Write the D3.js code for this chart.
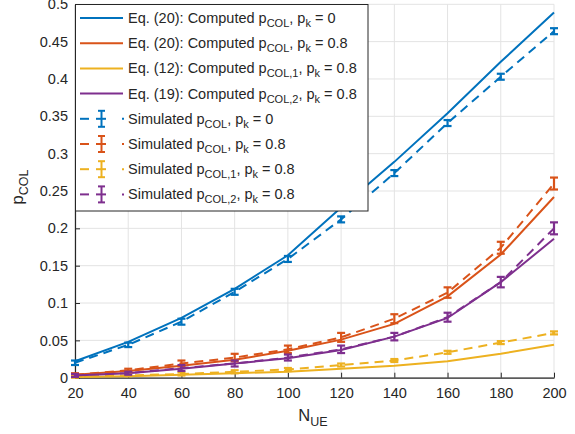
<!DOCTYPE html>
<html><head><meta charset="utf-8">
<script src="https://cdn.jsdelivr.net/npm/d3@7"></script>
<style>
body{margin:0;background:#fff;}
svg{display:block;font-family:"Liberation Sans",Arial,Helvetica,sans-serif;}
</style></head>
<body><svg id="c" width="575" height="434"></svg>
<script>
const nUE = [20,40,60,80,100,120,140,160,180,200];
const xTicks = [20,40,60,80,100,120,140,160,180,200];
const yTicks = [0,0.05,0.1,0.15,0.2,0.25,0.3,0.35,0.4,0.45,0.5];
const yTickLabels = ["0","0.05","0.1","0.15","0.2","0.25","0.3","0.35","0.4","0.45","0.5"];

const eq20_pk0  = [0.022,0.048,0.080,0.119,0.164,0.228,0.289,0.354,0.423,0.489];
const eq20_pk08 = [0.004,0.009,0.016,0.024,0.036,0.051,0.072,0.109,0.165,0.242];
const eq12_pk08 = [0.001,0.002,0.004,0.006,0.008,0.012,0.016,0.022,0.032,0.044];
const eq19_pk08 = [0.003,0.006,0.012,0.019,0.026,0.037,0.055,0.080,0.128,0.186];

const sim_pk0   = [0.020,0.044,0.075,0.115,0.159,0.212,0.274,0.341,0.403,0.464];
const sim_pk08  = [0.004,0.010,0.019,0.027,0.038,0.054,0.079,0.114,0.174,0.260];
const sim1_pk08 = [0.001,0.003,0.005,0.008,0.011,0.017,0.023,0.034,0.047,0.060];
const sim2_pk08 = [0.003,0.006,0.013,0.019,0.027,0.038,0.055,0.081,0.128,0.200];

const err_pk0   = [0.003,0.003,0.004,0.004,0.004,0.004,0.004,0.004,0.004,0.004];
const err_pk08  = [0.002,0.002,0.004,0.005,0.005,0.006,0.006,0.007,0.008,0.008];
const err1_pk08 = [0.001,0.001,0.002,0.002,0.002,0.002,0.002,0.002,0.002,0.002];
const err2_pk08 = [0.002,0.002,0.004,0.004,0.004,0.005,0.005,0.006,0.007,0.008];

const colors = ["#0072BD","#D95319","#EDB120","#7E2F8E"];

const computed = [
  {vals:eq20_pk0,  c:colors[0], label:[["Eq. (20): Computed p",""],["COL","s"],[", p",""],["k","s"],[" = 0",""]]},
  {vals:eq20_pk08, c:colors[1], label:[["Eq. (20): Computed p",""],["COL","s"],[", p",""],["k","s"],[" = 0.8",""]]},
  {vals:eq12_pk08, c:colors[2], label:[["Eq. (12): Computed p",""],["COL,1","s"],[", p",""],["k","s"],[" = 0.8",""]]},
  {vals:eq19_pk08, c:colors[3], label:[["Eq. (19): Computed p",""],["COL,2","s"],[", p",""],["k","s"],[" = 0.8",""]]}
];
const simulated = [
  {vals:sim_pk0,   err:err_pk0,   c:colors[0], label:[["Simulated p",""],["COL","s"],[", p",""],["k","s"],[" = 0",""]]},
  {vals:sim_pk08,  err:err_pk08,  c:colors[1], label:[["Simulated p",""],["COL","s"],[", p",""],["k","s"],[" = 0.8",""]]},
  {vals:sim1_pk08, err:err1_pk08, c:colors[2], label:[["Simulated p",""],["COL,1","s"],[", p",""],["k","s"],[" = 0.8",""]]},
  {vals:sim2_pk08, err:err2_pk08, c:colors[3], label:[["Simulated p",""],["COL,2","s"],[", p",""],["k","s"],[" = 0.8",""]]}
];

const L=75, R=554, T=4.3, B=377.7;
const x = d3.scaleLinear().domain([20,200]).range([L,R]);
const y = d3.scaleLinear().domain([0,0.5]).range([B,T]);
const svg = d3.select("#c");
const txt = "#262626";

// grid
const g = svg.append("g");
g.selectAll(".gx").data(xTicks).enter().append("line")
  .attr("x1",d=>x(d)).attr("x2",d=>x(d)).attr("y1",T).attr("y2",B)
  .attr("stroke","#e3e3e3").attr("stroke-width",1);
g.selectAll(".gy").data(yTicks).enter().append("line")
  .attr("x1",L).attr("x2",R).attr("y1",d=>y(d)).attr("y2",d=>y(d))
  .attr("stroke","#e3e3e3").attr("stroke-width",1);

// axes
const xAxis = d3.axisBottom(x).tickValues(xTicks).tickSizeInner(-5).tickSizeOuter(0).tickPadding(10);
const yAxis = d3.axisLeft(y).tickValues(yTicks).tickFormat((d,i)=>yTickLabels[i]).tickSizeInner(-5).tickSizeOuter(0).tickPadding(7);
const gx = svg.append("g").attr("transform",`translate(0,${B})`).call(xAxis);
const gy = svg.append("g").attr("transform",`translate(${L},0)`).call(yAxis);
[gx,gy].forEach(a=>{
  a.select(".domain").attr("stroke",txt).attr("stroke-width",1.2);
  a.selectAll(".tick line").attr("stroke",txt);
  a.selectAll(".tick text").attr("fill",txt).attr("font-size","14.5px").attr("font-family","Liberation Sans,Arial,sans-serif");
});

// lines
const line = d3.line().x((d,i)=>x(nUE[i])).y(d=>y(d));
const pg = svg.append("g");
computed.forEach(s=>{
  pg.append("path").datum(s.vals).attr("d",line).attr("fill","none")
    .attr("stroke",s.c).attr("stroke-width",2);
});
simulated.forEach(s=>{
  pg.append("path").datum(s.vals).attr("d",line).attr("fill","none")
    .attr("stroke",s.c).attr("stroke-width",2).attr("stroke-dasharray","9,6");
  const eg = pg.append("g").attr("stroke",s.c).attr("stroke-width",2.2);
  s.vals.forEach((v,i)=>{
    const cx = x(nUE[i]), y0 = y(v - s.err[i]), y1 = y(v + s.err[i]);
    eg.append("line").attr("x1",cx).attr("x2",cx).attr("y1",y0).attr("y2",y1);
    eg.append("line").attr("x1",cx-4).attr("x2",cx+4).attr("y1",y0).attr("y2",y0);
    eg.append("line").attr("x1",cx-4).attr("x2",cx+4).attr("y1",y1).attr("y2",y1);
  });
});

// axis labels
const xl = svg.append("text").attr("x",313).attr("y",421).attr("text-anchor","middle")
  .attr("fill",txt).attr("font-size","16.5px");
xl.append("tspan").text("N");
xl.append("tspan").attr("font-size","12.5px").attr("dy",5).text("UE");
const yl = svg.append("text").attr("transform","translate(23,187) rotate(-90)").attr("text-anchor","middle")
  .attr("fill",txt).attr("font-size","16.5px");
yl.append("tspan").text("p");
yl.append("tspan").attr("font-size","12.5px").attr("dy",5).text("COL");

// legend
const lg = svg.append("g");
lg.append("rect").attr("x",75.5).attr("y",4.5).attr("width",292.5).attr("height",206.5)
  .attr("fill","#fff").attr("stroke",txt).attr("stroke-width",1);
const rowY = i => 18 + i*25.2;
function addLabel(yc, parts){
  const t = lg.append("text").attr("x",128).attr("y",yc+5).attr("fill",txt).attr("font-size","14.5px");
  let shifted=false;
  parts.forEach(p=>{
    const ts = t.append("tspan").text(p[0]);
    if(p[1]==="s"){ ts.attr("font-size","11px").attr("dy",4); shifted=true; }
    else if(shifted){ ts.attr("dy",-4); shifted=false; }
  });
}
computed.forEach((s,i)=>{
  const yc = rowY(i);
  lg.append("line").attr("x1",80).attr("x2",123).attr("y1",yc).attr("y2",yc).attr("stroke",s.c).attr("stroke-width",2);
  addLabel(yc, s.label);
});
simulated.forEach((s,i)=>{
  const yc = rowY(i+4);
  const e = lg.append("g").attr("stroke",s.c).attr("stroke-width",2);
  e.append("line").attr("x1",80).attr("x2",89).attr("y1",yc).attr("y2",yc);
  e.append("line").attr("x1",96).attr("x2",106).attr("y1",yc).attr("y2",yc);
  e.append("line").attr("x1",122).attr("x2",124).attr("y1",yc).attr("y2",yc);
  e.append("line").attr("x1",101.5).attr("x2",101.5).attr("y1",yc-8).attr("y2",yc+8);
  e.append("line").attr("x1",98).attr("x2",105).attr("y1",yc-8).attr("y2",yc-8);
  e.append("line").attr("x1",98).attr("x2",105).attr("y1",yc+8).attr("y2",yc+8);
  addLabel(yc, s.label);
});
</script></body></html>
